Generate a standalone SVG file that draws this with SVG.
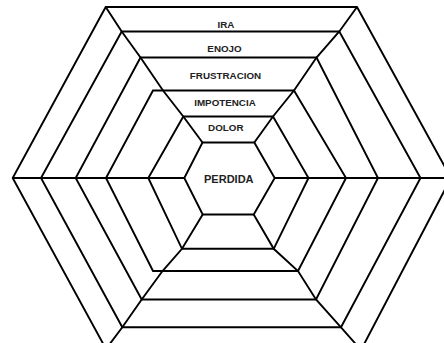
<svg xmlns="http://www.w3.org/2000/svg" width="444" height="343" viewBox="0 0 444 343">
<style>
.hex{fill:none;stroke:#000;stroke-width:1.9;stroke-linejoin:miter}
.sp{fill:none;stroke:#000;stroke-width:1.9}
.lbl{font-family:"Liberation Sans",Arial,sans-serif;font-weight:bold;font-size:9.8px;fill:#222;text-anchor:middle}
.big{font-size:11px}
</style>
<rect width="444" height="343" fill="#fff"/>
<g id="ira">
<polygon class="hex" points="105.7,7 357,7 451,178 361,350 106,349 12.7,178"/>
<text class="lbl" x="226" y="27.5">IRA</text>
</g>
<g id="enojo">
<polygon class="hex" points="121.7,31.5 339.3,31.5 420.5,178 341,327.3 122.3,327.3 41,178"/>
<text class="lbl" x="224.5" y="51.5">ENOJO</text>
</g>
<g id="frustracion">
<polygon class="hex" points="140.5,57.5 316.5,57.5 378,178 316,299.5 141.7,299.5 75.7,178"/>
<text class="lbl" x="225.5" y="79">FRUSTRACION</text>
</g>
<g id="impotencia">
<polygon class="hex" points="153,90.5 294,90.5 346,178 298,271 153,271 106,178"/>
<text class="lbl" x="225" y="106">IMPOTENCIA</text>
</g>
<g id="dolor">
<polygon class="hex" points="183.3,116.5 273,116.5 308.5,178 273.7,248.8 182,248.8 148.3,178"/>
<text class="lbl" x="225.8" y="131.3">DOLOR</text>
</g>
<g id="perdida">
<polygon class="hex" points="202.5,142.5 254.3,142.5 274.7,178 253.7,214.5 202.7,214.5 184.3,178"/>
<text class="lbl big" x="228.8" y="183">PERDIDA</text>
</g>
<g id="connectors">
<polyline class="sp" points="105.7,7 121.7,31.5 140.5,57.5 163,90.5 183.3,116.5 202.5,142.5"/>
<polyline class="sp" points="357,7 339.3,31.5 316.5,57.5 294,90.5 273,116.5 254.3,142.5"/>
<polyline class="sp" points="12.7,178 184.3,178"/>
<polyline class="sp" points="451,178 274.7,178"/>
<polyline class="sp" points="106,349 122.3,327.3 141.7,299.5 162.5,271 182,248.8 202.7,214.5"/>
<polyline class="sp" points="361,350 341,327.3 316,299.5 298,271 273.7,248.8 253.7,214.5"/>
</g>
</svg>
